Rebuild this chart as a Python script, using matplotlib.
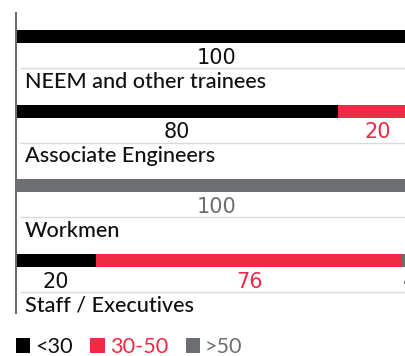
import matplotlib
matplotlib.use("Agg")
import matplotlib.pyplot as plt
from matplotlib.patches import Patch

# Age-band shares (%) by employee category
categories = ["NEEM and other trainees", "Associate Engineers", "Workmen", "Staff / Executives"]
bands = ["<30", "30-50", ">50"]
under_30 = [100, 80, 0, 20]
from_30_to_50 = [0, 20, 0, 76]
over_50 = [0, 0, 100, 4]

colors = {"<30": "#000000", "30-50": "#ee2a45", ">50": "#6d6e71"}
text_dark = "#111111"

W, H = 406, 356
fig = plt.figure(figsize=(W / 100, H / 100), dpi=100)
plt.rcParams["font.family"] = ["Lato", "DejaVu Sans"]

# axes: left edge at 16 px, 0..100 spans 402 px (runs past the right edge)
left_px, top_px, bottom_px = 16, 13, 313
ax = fig.add_axes([left_px / W, 1 - bottom_px / H, 402 / W, (bottom_px - top_px) / H])
row = 74.7  # px between rows
y_top = (top_px - 36.5) / row
y_bot = (bottom_px - 36.5) / row
ax.set_ylim(y_bot, y_top)
ax.set_xlim(0, 100)

bar_h = 13 / row
series = [under_30, from_30_to_50, over_50]
for i, cat in enumerate(categories):
    start = 0
    for band, vals in zip(bands, series):
        v = vals[i]
        if v <= 0:
            continue
        ax.barh(i, v, left=start, height=bar_h, color=colors[band], linewidth=0)
        ax.text(start + v / 2, i + 21 / row, f"{v}", ha="center", va="center",
                fontsize=15, color=colors[band] if band != "<30" else text_dark,
                family=["DejaVu Sans"])
        start += v
    # thin rule below the value labels
    ax.plot([1, 110], [i + 31.5 / row] * 2, color="#dadada", lw=1.0,
            solid_capstyle="butt", clip_on=False)
    ax.text(2.2, i + 45 / row, cat, ha="left", va="center", fontsize=15.6,
            color=text_dark, fontweight="medium")

for s in ["top", "right", "bottom"]:
    ax.spines[s].set_visible(False)
ax.spines["left"].set_color("#6d6e71")
ax.spines["left"].set_linewidth(1.5)
ax.set_xticks([])
ax.set_yticks([])

handles = [Patch(facecolor=colors[b], edgecolor="none") for b in bands]
leg = fig.legend(handles, bands, loc="lower left", bbox_to_anchor=(16 / W, -1 / H),
                 ncol=3, frameon=False, fontsize=15.6, handlelength=0.65,
                 handleheight=0.65, handletextpad=0.25, columnspacing=0.8,
                 borderaxespad=0, borderpad=0,
                 labelcolor=[text_dark, colors["30-50"], colors[">50"]])

fig.savefig("out.png", dpi=100)
